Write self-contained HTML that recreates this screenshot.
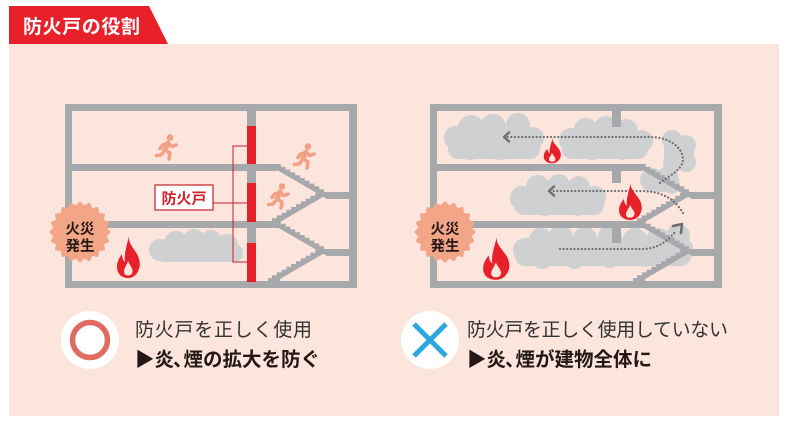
<!DOCTYPE html>
<html><head><meta charset="utf-8">
<style>
html,body{margin:0;padding:0;background:#fff;}
svg{display:block;}
text{font-family:"Liberation Sans","Noto Sans CJK JP",sans-serif;}
</style></head>
<body>
<svg width="785" height="424" viewBox="0 0 785 424" xmlns="http://www.w3.org/2000/svg">
<defs>
  <polygon id="burst" points="31,0 26.67,4.22 29.48,9.58 24.06,12.26 25.08,18.22 19.09,19.09 18.22,25.08 12.26,24.06 9.58,29.48 4.22,26.67 0,31 -4.22,26.67 -9.58,29.48 -12.26,24.06 -18.22,25.08 -19.09,19.09 -25.08,18.22 -24.06,12.26 -29.48,9.58 -26.67,4.22 -31,0 -26.67,-4.22 -29.48,-9.58 -24.06,-12.26 -25.08,-18.22 -19.09,-19.09 -18.22,-25.08 -12.26,-24.06 -9.58,-29.48 -4.22,-26.67 0,-31 4.22,-26.67 9.58,-29.48 12.26,-24.06 18.22,-25.08 19.09,-19.09 25.08,-18.22 24.06,-12.26 29.48,-9.58 26.67,-4.22"/>
  <g id="flame">
    <path fill="#e8202a" d="M13,0 C12,6 16,10 19,15 C23,20 25,27 23,33 C21,39 17,42 12,42 C6,42 1,38 1,31 C1,26 3,22 6,18 C6,22 7,24 9,26 C8,19 10,12 13,0 Z"/>
    <path fill="#fce5dc" d="M12,25 C14,30 17,32 16.5,36 C16,38.5 14,39.5 12,39.5 C9.5,39.5 8,38 8,35.5 C8,32 10.5,30 12,25 Z"/>
  </g>
  <g id="runner" fill="none" stroke="#f2a184" stroke-width="3.6" stroke-linecap="round" stroke-linejoin="round">
    <circle cx="15" cy="3.5" r="3.3" fill="#f2a184" stroke="none"/>
    <path d="M13,9 L10,16" stroke-width="5"/>
    <path d="M13,9.5 L17,12.5 L21,11"/>
    <path d="M12,10 L7.5,11 L5,14.5"/>
    <path d="M10,16 L15,19 L14,25"/>
    <path d="M10,16 L6,21 L1.5,21.5"/>
  </g>
  <g id="flights" fill="#a6a8ab">
    <path d="M270,164 L276,164 h4.8v2.8h4.8v2.8h4.8v2.8h4.8v2.8h4.8v2.8h4.8v2.8h4.8v2.8h4.8v2.8h4.8v2.8h4.8v2.8 L350,192 L350,199 L327,199 L270,166 Z"/>
    <path d="M268,221 L272,221 v-2.8h4.8v-2.8h4.8v-2.8h4.8v-2.8h4.8v-2.8h4.8v-2.8h4.8v-2.8h4.8v-2.8h4.8v-2.8h4.8v-2.8h4.8 L328,193 L328,194 L280,222 L280,228 L268,228 Z"/>
  </g>
  <g id="walls" fill="#a6a8ab">
    <rect x="65" y="104" width="292" height="7"/>
    <rect x="65" y="281" width="292" height="7"/>
    <rect x="65" y="104" width="7" height="184"/>
    <rect x="349" y="104" width="8" height="184"/>
    <rect x="65" y="164" width="212" height="7"/>
    <rect x="65" y="221" width="212" height="7"/>
    <use href="#flights"/>
    <use href="#flights" transform="translate(0,57)"/>
  </g>
</defs>

<rect x="0" y="0" width="785" height="424" fill="#ffffff"/>
<rect x="9" y="44" width="770" height="372" fill="#fce5dc"/>
<polygon points="9,6 149,6 168,44 9,44" fill="#e8202a"/>
<text x="23" y="33" font-size="19" font-weight="bold" fill="#ffffff" textLength="117" lengthAdjust="spacing">防火戸の役割</text>

<!-- LEFT BUILDING -->
<g fill="#cfd0d2">
  <circle cx="160" cy="250" r="11"/>
  <circle cx="176" cy="243" r="12"/>
  <circle cx="194" cy="240" r="11"/>
  <circle cx="211" cy="241" r="11"/>
  <circle cx="227" cy="245" r="11"/>
  <circle cx="234" cy="253" r="9"/>
  <rect x="158" y="246" width="80" height="16" rx="6"/>
</g>
<use href="#walls"/>
<rect x="247" y="104" width="9" height="184" fill="#a6a8ab"/>
<g fill="#e8202a">
  <rect x="247" y="126" width="9" height="38"/>
  <rect x="247" y="183" width="9" height="39"/>
  <rect x="247" y="243" width="9" height="39"/>
</g>
<path d="M247,146 H233 V262 H247 M213,203 H247" fill="none" stroke="#c8202a" stroke-width="1"/>
<rect x="155" y="185" width="58" height="25" fill="#ffffff" stroke="#c8202a" stroke-width="1.2"/>
<text x="184" y="203.5" font-size="15" font-weight="bold" fill="#d0202a" text-anchor="middle">防火戸</text>
<use href="#runner" transform="translate(155,134)"/>
<use href="#runner" transform="translate(293,143)"/>
<use href="#runner" transform="translate(267,183)"/>
<use href="#flame" transform="translate(116,236)"/>
<g transform="translate(80,232)">
  <use href="#burst" fill="#f3a587"/>
  <text x="0" y="2" font-size="14.5" font-weight="bold" fill="#231815" text-anchor="middle">火災</text>
  <text x="0" y="19" font-size="14.5" font-weight="bold" fill="#231815" text-anchor="middle">発生</text>
</g>

<!-- RIGHT BUILDING -->
<g fill="#cfd0d2">
  <!-- top left cloud -->
  <circle cx="456" cy="138" r="12"/>
  <circle cx="471" cy="128" r="13"/>
  <circle cx="493" cy="127" r="13"/>
  <circle cx="518" cy="125" r="12"/>
  <circle cx="533" cy="138" r="11"/>
  <circle cx="470" cy="148" r="12"/>
  <circle cx="500" cy="148" r="12"/>
  <circle cx="525" cy="148" r="11"/>
  <rect x="448" y="128" width="92" height="31" rx="10"/>
  <!-- top middle cloud -->
  <circle cx="571" cy="140" r="12"/>
  <circle cx="586" cy="130" r="12"/>
  <circle cx="606" cy="128" r="12"/>
  <circle cx="626" cy="131" r="12"/>
  <circle cx="642" cy="141" r="11"/>
  <circle cx="592" cy="149" r="11"/>
  <circle cx="622" cy="149" r="11"/>
  <rect x="562" y="131" width="86" height="28" rx="10"/>
  <!-- right clouds near stairs -->
  <circle cx="672" cy="140" r="10"/>
  <circle cx="686" cy="145" r="10"/>
  <circle cx="686" cy="162" r="10"/>
  <circle cx="672" cy="162" r="9"/>
  <rect x="664" y="140" width="30" height="30" rx="10"/>
  <circle cx="652" cy="180" r="12"/>
  <circle cx="668" cy="176" r="10"/>
  <circle cx="672" cy="186" r="8"/>
  <rect x="645" y="172" width="34" height="20" rx="8"/>
  <!-- middle cloud -->
  <circle cx="522" cy="198" r="12"/>
  <circle cx="538" cy="187" r="12"/>
  <circle cx="559" cy="185" r="11"/>
  <circle cx="579" cy="187" r="11"/>
  <circle cx="595" cy="197" r="11"/>
  <circle cx="545" cy="205" r="11"/>
  <circle cx="578" cy="206" r="10"/>
  <rect x="514" y="187" width="90" height="28" rx="10"/>
  <!-- bottom cloud -->
  <circle cx="525" cy="250" r="12"/>
  <circle cx="541" cy="240" r="12"/>
  <circle cx="561" cy="237" r="12"/>
  <circle cx="585" cy="239" r="12"/>
  <circle cx="610" cy="237" r="12"/>
  <circle cx="635" cy="240" r="12"/>
  <circle cx="658" cy="240" r="12"/>
  <circle cx="678" cy="236" r="12"/>
  <circle cx="684" cy="248" r="9"/>
  <circle cx="542" cy="258" r="11"/>
  <circle cx="575" cy="259" r="10"/>
  <circle cx="610" cy="258" r="10"/>
  <circle cx="645" cy="257" r="10"/>
  <rect x="515" y="238" width="176" height="28" rx="10"/>
</g>
<use href="#walls" transform="translate(365,0)"/>
<g fill="#a6a8ab">
  <rect x="612" y="104" width="9" height="23"/>
  <rect x="612" y="171" width="9" height="12"/>
  <rect x="612" y="228" width="9" height="15"/>
</g>
<g fill="none" stroke="#6d6e71" stroke-width="2.2" stroke-linecap="round">
  <path stroke-dasharray="0.01 3.6" d="M660,183 C668,176 684,170 683,158 C682,148 670,137 650,137 L507,137"/>
  <path stroke-dasharray="0.01 3.6" d="M683,213 C676,202 666,191 640,191 L552,191"/>
  <path stroke-dasharray="0.01 3.6" d="M560,249 L642,249 C660,249 670,238 676,231"/>
  <path stroke-width="2.5" stroke-linejoin="round" d="M509,132.5 L504,137 L509,141.5"/>
  <path stroke-width="2.5" stroke-linejoin="round" d="M554,186.5 L549,191 L554,195.5"/>
  <path stroke-width="2.6" stroke-linejoin="round" d="M673,226 L682,224 L681,233"/>
</g>
<use href="#flame" transform="translate(543,138) scale(0.75,0.6)"/>
<use href="#flame" transform="translate(618,183) scale(1,0.88)"/>
<use href="#flame" transform="translate(482,237) scale(1.15,1.02)"/>
<g transform="translate(445,232)">
  <use href="#burst" fill="#f3a587"/>
  <text x="0" y="2" font-size="14.5" font-weight="bold" fill="#231815" text-anchor="middle">火災</text>
  <text x="0" y="19" font-size="14.5" font-weight="bold" fill="#231815" text-anchor="middle">発生</text>
</g>

<!-- BOTTOM LEGEND -->
<circle cx="90" cy="340" r="29" fill="#ffffff"/>
<circle cx="90" cy="340" r="17.5" fill="none" stroke="#e06b62" stroke-width="5.5"/>
<text x="135" y="336" font-size="19" fill="#333333" textLength="177" lengthAdjust="spacing">防火戸を正しく使用</text>
<text x="135" y="366" font-size="19.5" font-weight="bold" fill="#231815">▶炎<tspan dx="-1">、</tspan><tspan dx="-9">煙の拡大を防ぐ</tspan></text>

<circle cx="430" cy="340" r="29" fill="#ffffff"/>
<path d="M414,324 L446,356 M446,324 L414,356" stroke="#2ea7e0" stroke-width="5" fill="none"/>
<text x="467" y="336" font-size="19" fill="#333333" textLength="261" lengthAdjust="spacing">防火戸を正しく使用していない</text>
<text x="467" y="366" font-size="19.5" font-weight="bold" fill="#231815">▶炎<tspan dx="-1">、</tspan><tspan dx="-9">煙が建物全体に</tspan></text>
</svg>
</body></html>
